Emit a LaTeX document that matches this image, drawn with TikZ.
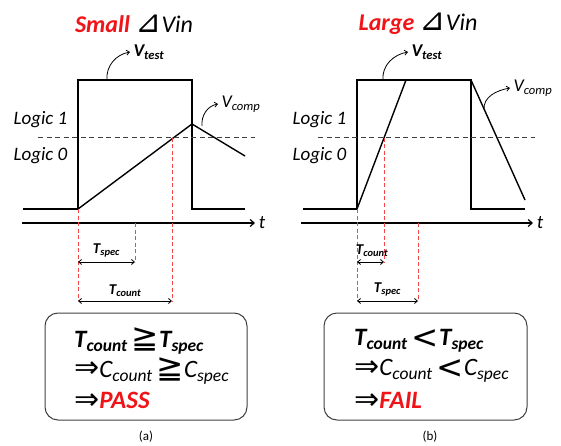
\documentclass[tikz,border=0pt]{standalone}
\usepackage{fontspec}
\setmainfont{Carlito}
\newfontfamily\symfont{DejaVu Sans}
\usetikzlibrary{arrows.meta}
\definecolor{verdict-red}{RGB}{240,20,25}
\definecolor{guide-red}{RGB}{245,70,70}
\newcommand{\fsz}[1]{\fontsize{#1}{#1}\selectfont}
\newcommand{\bigsym}[3]{\raisebox{#3}{\scalebox{#1}{\upshape\symfont #2}}}

\begin{document}
\begin{tikzpicture}[x=1pt, y=-1pt,
            sig/.style={line width=1.4pt, line join=miter},
            lvl/.style={line width=1pt, dash pattern=on 5pt off 3.5pt, black!75},
            guide/.style={guide-red, line width=0.9pt, dash pattern=on 4pt off 2.5pt},
            tip/.style={-{Straight Barb[length=3pt,width=5pt]}, line width=0.8pt},
            span/.style={{Straight Barb[length=3pt,width=5pt]}-{Straight Barb[length=3pt,width=5pt]}, line width=0.8pt},
            title/.style={font=\fsz{24}},
            lvltext/.style={font=\fsz{19}\itshape, anchor=west},
            sigtext/.style={font=\fsz{18}\itshape, anchor=west},
            spantext/.style={font=\fsz{15}\bfseries\itshape},
            result/.style={font=\fsz{25}\itshape, anchor=west, inner sep=0pt},
            frame/.style={draw, rounded corners=13pt, line width=1pt, black!75}]
  \useasboundingbox (0,0) rectangle (561,446);

  % ---------- (a) small dVin ----------
  \node[title] (titleA) at (134,24)
        {\textcolor{verdict-red}{\bfseries\itshape Small} \bigsym{1.3}{⊿}{0pt}\textit{Vin}};
  \node[lvltext] (oneA)  at (10,120) {Logic 1};
  \node[lvltext] (zeroA) at (10,156) {Logic 0};
  \coordinate (riseA) at (78,209);
  \coordinate (peakA) at (192,124);
  \coordinate (hitA)  at (172,138);
  \draw[sig] (23,209) -- (riseA) -- (78,80) -- (192,80) -- (192,209) -- (245,209);
  \draw[sig] (riseA) -- (peakA) -- (245,156);
  \draw[lvl] (38,138) -- (255,138);
  \draw[-{Straight Barb[length=4pt,width=7pt]}, line width=1.2pt] (22,223) -- (255,223)
        node[right, font=\fsz{19}\itshape] (tA) {t};
  \node[sigtext] (vtestA) at (130,52) {\textbf{V\textsubscript{test}}};
  \draw[tip] (107,80) to[out=95, in=190] (vtestA.west);
  \node[sigtext] (vcompA) at (218,104) {V\textsubscript{comp}};
  \draw[tip] (202,126) to[out=95, in=190] (vcompA.west);
  \coordinate (specA) at (135,262);
  \coordinate (endA)  at (172,301);
  \draw[guide] (riseA) -- (78,301);
  \draw[guide] (hitA) -- (endA);
  \draw[guide] (135,223) -- (specA);
  \draw[span] (78,262) -- (specA) node[midway, above=1pt, spantext] {T\textsubscript{spec}};
  \draw[span] (78,301) -- (endA) node[midway, above=1pt, spantext] {T\textsubscript{count}};
  \draw[frame] (45,313) rectangle (247,420);
  \node[result] (ruleA1) at (74,341)
        {\textbf{T\textsubscript{count}}\,\bigsym{1.3}{≧}{-0.06em}\textbf{T\textsubscript{spec}}};
  \node[result] (ruleA2) at (74,371)
        {\bigsym{1.2}{⇒}{-0.02em}C\textsubscript{count}\,\bigsym{1.3}{≧}{-0.06em}C\textsubscript{spec}};
  \node[result] (ruleA3) at (74,401)
        {\bigsym{1.2}{⇒}{-0.02em}\textcolor{verdict-red}{\bfseries PASS}};
  \node[font=\fsz{13}] (capA) at (146,437) {(a)};

  % ---------- (b) large dVin ----------
  \node[title] (titleB) at (418,24)
        {\textcolor{verdict-red}{\bfseries\itshape Large} \bigsym{1.3}{⊿}{0pt}\textit{Vin}};
  \node[lvltext] (oneB)  at (289,120) {Logic 1};
  \node[lvltext] (zeroB) at (289,156) {Logic 0};
  \coordinate (riseB) at (357,209);
  \coordinate (hitB)  at (384,138);
  \draw[sig] (303,209) -- (riseB) -- (357,80) -- (471,80) -- (471,209) -- (525,209);
  \draw[sig] (riseB) -- (406,80);
  \draw[sig] (471,80) -- (525,200);
  \draw[lvl] (318,138) -- (535,138);
  \draw[-{Straight Barb[length=4pt,width=7pt]}, line width=1.2pt] (301,223) -- (533,223)
        node[right, font=\fsz{19}\itshape] (tB) {t};
  \node[sigtext] (vtestB) at (408,52) {\textbf{V\textsubscript{test}}};
  \draw[tip] (383,80) to[out=95, in=190] (vtestB.west);
  \node[sigtext] (vcompB) at (510,88) {V\textsubscript{comp}};
  \draw[tip] (484,110) to[out=95, in=190] (vcompB.west);
  \coordinate (countB) at (384,262);
  \coordinate (endB)   at (418,301);
  \draw[guide] (riseB) -- (357,301);
  \draw[guide] (hitB) -- (countB);
  \draw[guide] (418,223) -- (endB);
  \draw[span] (357,262) -- (countB);
  \node[spantext] (tcountB) at (372,251) {T\textsubscript{count}};
  \draw[span] (357,301) -- (endB) node[midway, above=1pt, spantext] {T\textsubscript{spec}};
  \draw[frame] (324,313) rectangle (527,420);
  \node[result] (ruleB1) at (354,341)
        {\textbf{T\textsubscript{count}}\,\bigsym{1.3}{<}{-0.12em}\textbf{T\textsubscript{spec}}};
  \node[result] (ruleB2) at (354,371)
        {\bigsym{1.2}{⇒}{-0.02em}C\textsubscript{count}\,\bigsym{1.3}{<}{-0.12em}C\textsubscript{spec}};
  \node[result] (ruleB3) at (354,401)
        {\bigsym{1.2}{⇒}{-0.02em}\textcolor{verdict-red}{\bfseries FAIL}};
  \node[font=\fsz{13}] (capB) at (430,437) {(b)};
\end{tikzpicture}
\end{document}
